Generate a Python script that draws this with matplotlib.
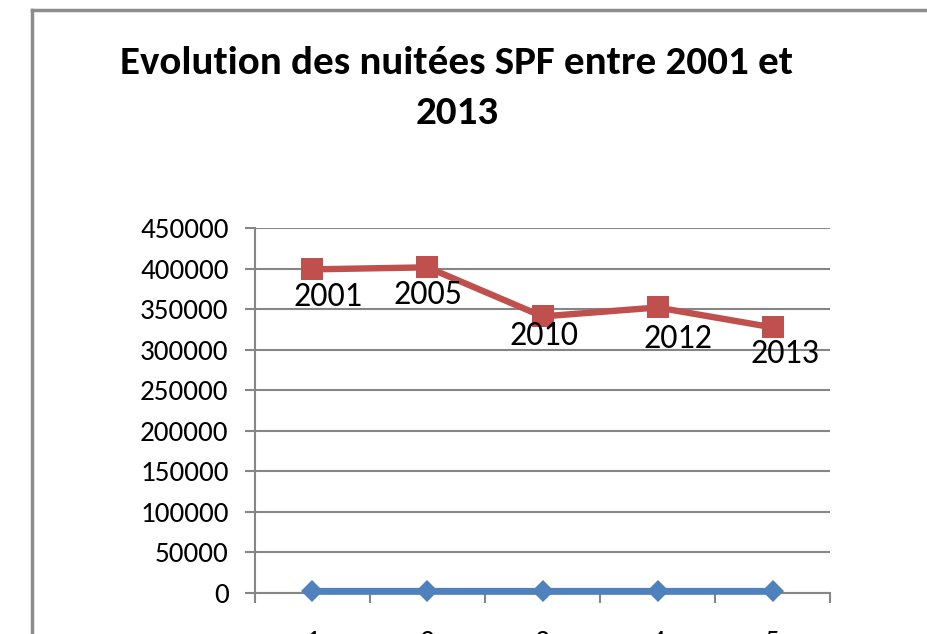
import matplotlib
matplotlib.use("Agg")
import matplotlib.pyplot as plt
from matplotlib.lines import Line2D

categories = [1, 2, 3, 4, 5]
years = [2001, 2005, 2010, 2012, 2013]
nuitees = [399000, 401500, 341000, 352000, 327500]
yticks = [0, 50000, 100000, 150000, 200000, 250000, 300000, 350000, 400000, 450000]
title = "Evolution des nuitées SPF entre 2001 et\n2013"

# label offsets (points) relative to red markers
label_offsets = [(11, -20), (0, -20), (1, -14), (15, -23), (9, -19)]

plt.rcParams['font.family'] = ['Carlito', 'DejaVu Sans']

fig = plt.figure(figsize=(9.28, 6.34), dpi=100)
ax = fig.add_axes([255/928, 1-593/634, (830-255)/928, (593-228)/634])

grey = '#868686'
red = '#C0504D'
blue = '#4F81BD'

ax.plot(categories, years, color=blue, lw=5, marker='D', ms=11.5, mew=0,
        solid_capstyle='butt', zorder=3, clip_on=False)
ax.plot(categories, nuitees, color=red, lw=4.6, marker='s', ms=15.5, mew=0,
        zorder=4, clip_on=False)

for x, y, lab, off in zip(categories, nuitees, years, label_offsets):
    ax.annotate(str(lab), (x, y), xytext=off, textcoords='offset points',
                ha='center', va='center', fontsize=24.5, color='black', zorder=5)

ax.set_xlim(0.5, 5.5)
ax.set_ylim(0, 450000)
ax.set_yticks(yticks)
ax.set_yticklabels([str(v) for v in yticks])
ax.set_xticks(categories)
ax.set_xticklabels([str(c) for c in categories])
ax.set_xticks([c - 0.5 for c in categories] + [5.5], minor=True)

ax.grid(axis='y', color=grey, lw=1.5, zorder=0)
ax.set_axisbelow(True)
for s in ['top', 'right']:
    ax.spines[s].set_visible(False)
for s in ['left', 'bottom']:
    ax.spines[s].set_color(grey)
    ax.spines[s].set_linewidth(1.5)

ax.tick_params(axis='y', length=7, width=1.5, color=grey, labelsize=21, pad=12)
ax.tick_params(axis='x', which='major', length=0, labelsize=21, pad=27)
ax.tick_params(axis='x', which='minor', length=7, width=1.5, color=grey)

fig.text(457/928, 1-88/634, title, ha='center', va='center', fontsize=29.5,
         fontweight='bold', linespacing=1.6)

# chart border (left and top)
fig.add_artist(Line2D([32/928, 32/928], [0, 1-10/634], transform=fig.transFigure,
                      color='#8c8c8c', lw=2.5))
fig.add_artist(Line2D([32/928, 1], [1-10/634, 1-10/634], transform=fig.transFigure,
                      color='#8c8c8c', lw=2.5))

fig.savefig('out.png', dpi=100)
